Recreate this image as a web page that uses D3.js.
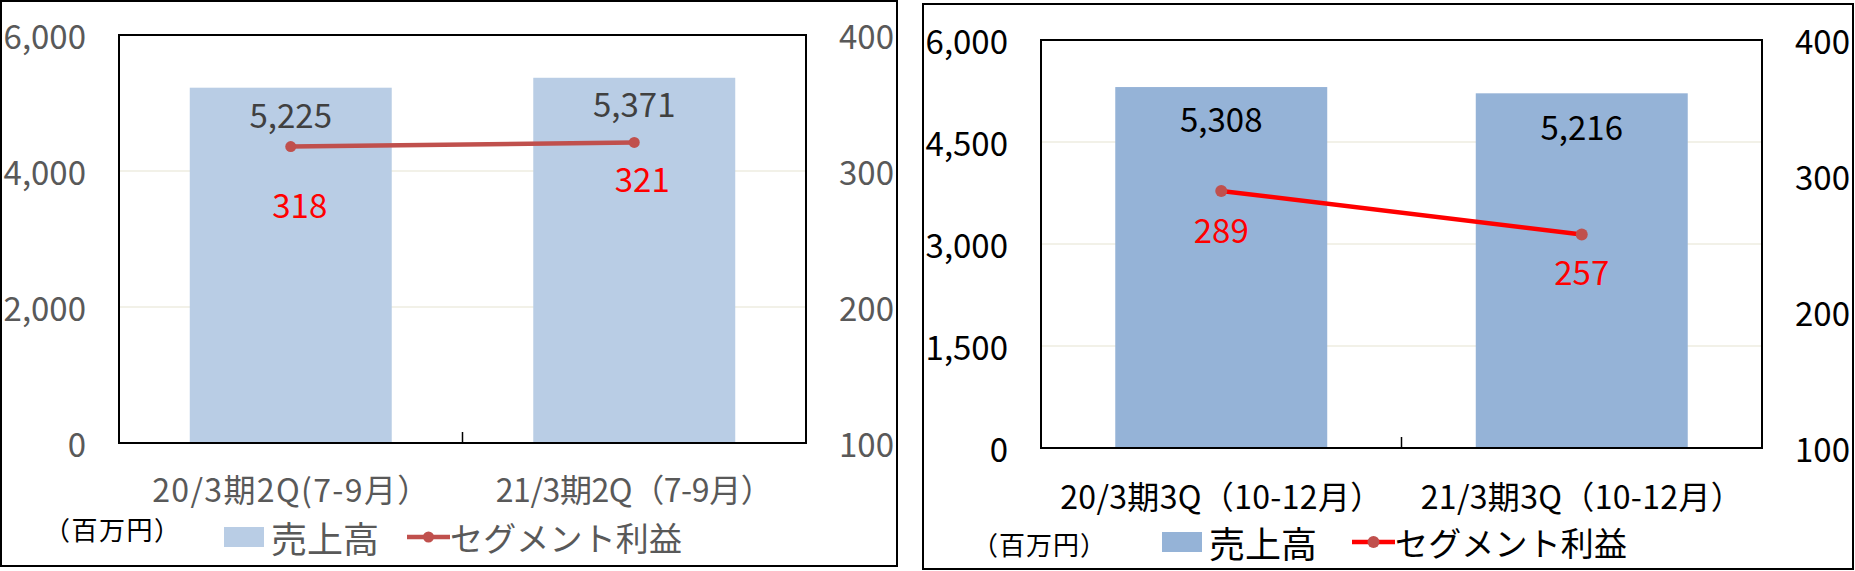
<!DOCTYPE html>
<html><head><meta charset="utf-8">
<script src="https://cdn.jsdelivr.net/npm/d3@7"></script>
<style>html,body{margin:0;padding:0;background:#fff;}svg{display:block;font-family:"Noto Sans CJK JP","Noto Sans",sans-serif;}</style>
</head><body>
<svg id="c" width="1855" height="571"></svg>
<script>
// ---- data ----
const categoriesA = ["20/3期2Q(7-9月）", "21/3期2Q（7-9月）"];
const salesA = [5225, 5371];
const profitA = [318, 321];
const leftTicksA = [0, 2000, 4000, 6000];
const rightTicksA = [100, 200, 300, 400];

const categoriesB = ["20/3期3Q（10-12月）", "21/3期3Q（10-12月）"];
const salesB = [5308, 5216];
const profitB = [289, 257];
const leftTicksB = [0, 1500, 3000, 4500, 6000];
const rightTicksB = [100, 200, 300, 400];

const seriesNames = ["売上高", "セグメント利益"];
const unitLabel = "（百万円）";

const svg = d3.select("#c");

function drawChart(o) {
  const g = svg.append("g");
  // outer frame
  g.append("rect").attr("x", o.frame[0]).attr("y", o.frame[1])
    .attr("width", o.frame[2] - o.frame[0]).attr("height", o.frame[3] - o.frame[1])
    .attr("fill", "#fff").attr("stroke", "#000").attr("stroke-width", 2);

  const x = d3.scaleBand().domain(o.categories).range([o.plot.l, o.plot.r]).paddingInner(0.412).paddingOuter(0.206);
  const xb = d3.scaleBand().domain(o.categories).range([o.plot.l, o.plot.r]);
  const yL = d3.scaleLinear().domain([0, 6000]).range([o.plot.b, o.plot.t]);
  const yR = d3.scaleLinear().domain([100, 400]).range([o.plot.b, o.plot.t]);

  // gridlines
  g.append("g").selectAll("line").data(o.leftTicks.filter(t => t > 0 && t < 6000)).join("line")
    .attr("x1", o.plot.l).attr("x2", o.plot.r)
    .attr("y1", d => yL(d)).attr("y2", d => yL(d))
    .attr("stroke", "#EEECE1").attr("stroke-width", 1.5);

  // bars
  g.append("g").selectAll("rect").data(o.sales).join("rect")
    .attr("x", (d, i) => x(o.categories[i]))
    .attr("width", x.bandwidth())
    .attr("y", d => yL(d))
    .attr("height", d => yL(0) - yL(d))
    .attr("fill", o.barColor);

  // plot frame
  g.append("rect").attr("x", o.plot.l).attr("y", o.plot.t)
    .attr("width", o.plot.r - o.plot.l).attr("height", o.plot.b - o.plot.t)
    .attr("fill", "none").attr("stroke", "#000").attr("stroke-width", 2);

  // middle category tick
  g.append("g").selectAll("line").data(o.categories.slice(1)).join("line")
    .attr("x1", d => xb(d)).attr("x2", d => xb(d))
    .attr("y1", o.plot.b).attr("y2", o.plot.b - 11)
    .attr("stroke", "#000").attr("stroke-width", 1.5);

  // left axis labels
  g.append("g").selectAll("text").data(o.leftTicks).join("text")
    .attr("x", o.leftLabelX).attr("y", d => yL(d))
    .attr("text-anchor", "end").attr("dominant-baseline", "central")
    .attr("font-size", 33).attr("fill", o.axisColor)
    .text(d => d3.format(",")(d));
  // right axis labels
  g.append("g").selectAll("text").data(o.rightTicks).join("text")
    .attr("x", o.rightLabelX).attr("y", d => yR(d))
    .attr("text-anchor", "end").attr("dominant-baseline", "central")
    .attr("font-size", 33).attr("fill", o.axisColor)
    .text(d => d3.format(",")(d));

  // category labels
  g.append("g").selectAll("text").data(o.categories).join("text")
    .attr("x", d => xb(d) + xb.bandwidth() / 2 + o.catDx).attr("y", o.catY)
    .attr("text-anchor", "middle").attr("font-size", 32).attr("fill", o.axisColor)
    .attr("textLength", o.catWidth).attr("lengthAdjust", "spacing")
    .text(d => d);

  // line
  const pts = o.profit.map((v, i) => [xb(o.categories[i]) + xb.bandwidth() / 2, yR(v)]);
  g.append("path").datum(pts).attr("d", d3.line())
    .attr("fill", "none").attr("stroke", o.lineColor).attr("stroke-width", 4.5);
  g.append("g").selectAll("circle").data(pts).join("circle")
    .attr("cx", d => d[0]).attr("cy", d => d[1]).attr("r", o.markerR)
    .attr("fill", "#C0504D");

  // sales labels
  g.append("g").selectAll("text").data(o.sales).join("text")
    .attr("x", (d, i) => xb(o.categories[i]) + xb.bandwidth() / 2)
    .attr("y", (d, i) => yL(d) + o.salesDy[i])
    .attr("text-anchor", "middle").attr("font-size", 33).attr("fill", o.salesLabelColor)
    .text(d => d3.format(",")(d));
  // profit labels
  g.append("g").selectAll("text").data(o.profit).join("text")
    .attr("x", (d, i) => pts[i][0] + o.profitDx[i])
    .attr("y", (d, i) => pts[i][1] + o.profitDy[i])
    .attr("text-anchor", "middle").attr("font-size", 33).attr("fill", "#FF0000")
    .text(d => d);

  // legend
  const L = o.legend;
  g.append("text").attr("x", L.unitX).attr("y", L.unitY).attr("dominant-baseline", "central")
    .attr("font-size", 26).attr("fill", "#000")
    .attr("textLength", L.unitW).attr("lengthAdjust", "spacing").text(unitLabel);
  g.append("rect").attr("x", L.swX).attr("y", L.y - 10).attr("width", 40).attr("height", 20).attr("fill", o.barColor);
  g.append("text").attr("x", L.swX + 47).attr("y", L.y).attr("dominant-baseline", "central")
    .attr("font-size", 36).attr("fill", o.axisColor).text(seriesNames[0]);
  g.append("line").attr("x1", L.lnX).attr("x2", L.lnX + 43).attr("y1", L.y).attr("y2", L.y)
    .attr("stroke", o.lineColor).attr("stroke-width", 4.5);
  g.append("circle").attr("cx", L.lnX + 21.5).attr("cy", L.y).attr("r", o.markerR).attr("fill", "#C0504D");
  g.append("text").attr("x", L.lnX + 43).attr("y", L.y).attr("dominant-baseline", "central")
    .attr("font-size", 33).attr("fill", o.axisColor)
    .attr("textLength", 232).attr("lengthAdjust", "spacing").text(seriesNames[1]);
}

drawChart({
  frame: [1, 1, 897, 566],
  plot: { l: 119, r: 806, t: 35, b: 443 },
  categories: categoriesA, sales: salesA, profit: profitA,
  leftTicks: leftTicksA, rightTicks: rightTicksA,
  barColor: "#B9CDE5", lineColor: "#C0504D", markerR: 5.5,
  axisColor: "#595959", salesLabelColor: "#404040",
  leftLabelX: 86, rightLabelX: 894, catY: 502, catDx: 0, catWidth: 277,
  salesDy: [40, 39], profitDx: [9, 8], profitDy: [71, 50],
  legend: { y: 537, unitY: 528, unitX: 44, unitW: 136, swX: 224, lnX: 407 }
});

drawChart({
  frame: [923, 4, 1853, 569],
  plot: { l: 1041, r: 1762, t: 40, b: 448 },
  categories: categoriesB, sales: salesB, profit: profitB,
  leftTicks: leftTicksB, rightTicks: rightTicksB,
  barColor: "#95B3D7", lineColor: "#FF0000", markerR: 6,
  axisColor: "#000000", salesLabelColor: "#000000",
  leftLabelX: 1008, rightLabelX: 1850, catY: 509, catDx: 0, catWidth: 322,
  salesDy: [45, 47], profitDx: [0, 0], profitDy: [52, 51],
  legend: { y: 542, unitY: 543, unitX: 972, unitW: 134, swX: 1162, lnX: 1352 }
});
</script>
</body></html>
